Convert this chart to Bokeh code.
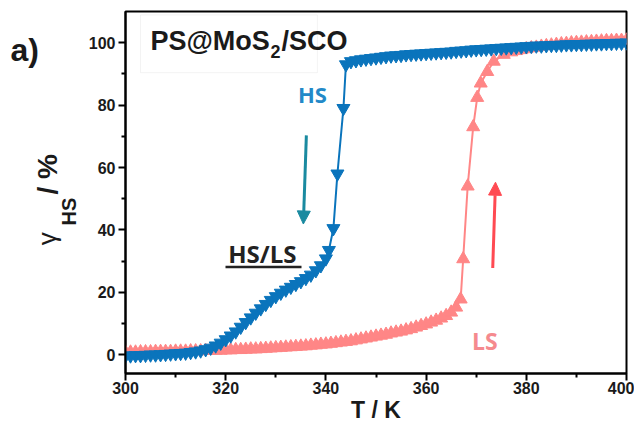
import math
from bokeh.plotting import figure
from bokeh.layouts import row
from bokeh.models import Label, BoxAnnotation, Arrow, NormalHead, Range1d, FixedTicker
from bokeh.embed import file_html
from bokeh.resources import INLINE

# ---- data ----
temp_cool = [300, 301, 302, 303, 304, 305, 306, 307, 308, 309, 310, 311, 312, 313, 314,
             315, 316, 317, 318, 319, 320, 321, 322, 323, 324, 325, 326, 327, 328, 329,
             330, 331, 332, 333, 334, 335, 336, 337, 338, 339, 340,
             340.6, 341.5, 342.3, 343.5, 344.0,
             345, 346, 347, 348, 349, 350, 351, 352, 353, 354, 355, 356, 357, 358, 359,
             360, 361, 362, 363, 364, 365, 366, 367, 368, 369, 370, 371, 372, 373, 374,
             375, 376, 377, 378, 379, 380, 381, 382, 383, 384, 385, 386, 387, 388, 389,
             390, 391, 392, 393, 394, 395, 396, 397, 398, 399, 400]
gamma_cool = [-0.3, -0.3, -0.2, -0.2, -0.1, 0.0, 0.0, 0.1, 0.2, 0.3, 0.4, 0.5, 0.6, 0.8, 1.0,
              1.3, 1.7, 2.2, 2.9, 3.8, 4.9, 6.1, 7.4, 8.9, 10.4, 11.9, 13.4, 14.8, 16.2, 17.5,
              18.7, 19.8, 20.8, 21.7, 22.6, 23.5, 24.5, 25.6, 27.0, 28.6, 30.8,
              33.5, 40.5, 58.0, 79.0, 93.0,
              94.0, 94.3, 94.6, 94.8, 95.0, 95.2, 95.4, 95.6, 95.8, 95.9, 96.0, 96.2, 96.3, 96.4, 96.5,
              96.6, 96.7, 96.8, 96.9, 97.0, 97.1, 97.3, 97.4, 97.5, 97.7, 97.8, 97.9, 98.0, 98.1, 98.2,
              98.3, 98.4, 98.5, 98.6, 98.7, 98.8, 98.9, 99.0, 99.0, 99.1, 99.2, 99.2, 99.3, 99.4, 99.4,
              99.5, 99.5, 99.6, 99.6, 99.7, 99.7, 99.8, 99.8, 99.9, 99.9, 100.0]

temp_heat = [300, 301, 302, 303, 304, 305, 306, 307, 308, 309, 310, 311, 312, 313, 314,
             315, 316, 317, 318, 319, 320, 321, 322, 323, 324, 325, 326, 327, 328, 329,
             330, 331, 332, 333, 334, 335, 336, 337, 338, 339, 340, 341, 342, 343, 344,
             345, 346, 347, 348, 349, 350, 351, 352, 353, 354, 355, 356, 357, 358, 359,
             360, 361, 362, 363, 364, 365, 366,
             366.9, 367.4, 368.3, 369.4, 370.2, 370.9, 372.2, 373.5, 375.5,
             377, 378, 379, 380, 381, 382, 383, 384, 385, 386, 387, 388, 389,
             390, 391, 392, 393, 394, 395, 396, 397, 398, 399, 400]
gamma_heat = [0.8, 0.8, 0.8, 0.9, 0.9, 0.9, 1.0, 1.0, 1.0, 1.0, 1.1, 1.1, 1.1, 1.2, 1.2,
              1.2, 1.3, 1.3, 1.4, 1.4, 1.5, 1.5, 1.6, 1.6, 1.7, 1.8, 1.8, 1.9, 2.0, 2.1,
              2.2, 2.3, 2.4, 2.5, 2.6, 2.7, 2.8, 3.0, 3.1, 3.3, 3.4, 3.6, 3.8, 4.0, 4.2,
              4.4, 4.7, 5.0, 5.3, 5.6, 5.9, 6.2, 6.5, 6.9, 7.2, 7.5, 7.9, 8.3, 8.8, 9.3,
              9.8, 10.4, 11.0, 11.7, 12.5, 13.6, 15.2,
              17.8, 30.7, 54.0, 73.0, 82.4, 87.0, 90.7, 94.0, 96.2,
              97.0, 97.4, 97.7, 98.0, 98.3, 98.5, 98.8, 99.0, 99.2, 99.4, 99.6, 99.7, 99.9,
              100.0, 100.1, 100.2, 100.3, 100.4, 100.5, 100.6, 100.6, 100.7, 100.7, 100.8]

x_ticks = [300, 320, 340, 360, 380, 400]
x_minor = [310, 330, 350, 370, 390]
y_ticks = [0, 20, 40, 60, 80, 100]
y_minor = [10, 30, 50, 70, 90]

BLUE = "#0a74bc"
PINK = "#ff8686"
TEAL = "#1a8aa0"
RED = "#ff4a52"
DARK = "#1a1a1a"

H = 427
LEFT_W = 85

# ---- left strip holding the panel letter and the y-axis title ----
side = figure(width=LEFT_W, height=H, output_backend="svg", toolbar_location=None,
              x_range=Range1d(0, LEFT_W), y_range=Range1d(H, 0),
              min_border=0, outline_line_color=None)
side.axis.visible = False
side.grid.visible = False

def lab(fig, x, y, text, size, color=DARK, font="Liberation Sans", style="bold",
        align="left", baseline="alphabetic", angle=0.0):
    l = Label(x=x, y=y, text=text, text_font_size=size, text_color=color,
              text_font=font, text_font_style=style, text_align=align,
              text_baseline=baseline, angle=angle)
    fig.add_layout(l)
    return l

lab(side, 10, 46, "a)", "32px", baseline="middle")
lab(side, 46.5, 268, "γ", "26px", style="normal", align="center", baseline="middle", angle=math.pi / 2)
lab(side, 68.5, 236, "HS", "20px", align="center", baseline="middle", angle=math.pi / 2)
lab(side, 46.5, 192, "/ %", "28px", align="center", baseline="middle", angle=math.pi / 2)

# ---- main plot ----
p = figure(width=634 - LEFT_W, height=H, output_backend="svg", toolbar_location=None,
           x_range=Range1d(300, 400), y_range=Range1d(-6, 110),
           min_border_left=125 - LEFT_W, min_border_right=8, min_border_top=11, min_border_bottom=54)

p.xgrid.grid_line_color = None
p.ygrid.grid_line_color = None
p.outline_line_color = "black"
p.outline_line_width = 2
p.background_fill_color = "white"

for ax in (p.xaxis[0], p.yaxis[0]):
    ax.axis_line_width = 2
    ax.major_tick_line_width = 2
    ax.minor_tick_line_width = 2
    ax.major_tick_in = 0
    ax.minor_tick_in = 0
    ax.major_tick_out = 7
    ax.minor_tick_out = 4
    ax.major_label_text_font = "Liberation Sans"
    ax.major_label_text_font_style = "bold"
    ax.major_label_text_font_size = "16px"
    ax.major_label_text_color = DARK

p.xaxis[0].ticker = FixedTicker(ticks=x_ticks, minor_ticks=x_minor)
p.yaxis[0].ticker = FixedTicker(ticks=y_ticks, minor_ticks=y_minor)
p.xaxis[0].major_label_standoff = 1
p.yaxis[0].major_label_standoff = 3
p.xaxis[0].axis_label = "T / K"
p.xaxis[0].axis_label_text_font = "Liberation Sans"
p.xaxis[0].axis_label_text_font_style = "bold"
p.xaxis[0].axis_label_text_font_size = "23px"
p.xaxis[0].axis_label_text_color = DARK
p.xaxis[0].axis_label_standoff = 0

# title box
box = BoxAnnotation(left=303.0, right=338.3, bottom=90.4, top=108.9,
                    fill_color="white", fill_alpha=1.0, line_color="#d6d6d6", line_width=1,
                    level="underlay")
p.add_layout(box)

# curves
p.line(temp_heat, gamma_heat, color=PINK, line_width=2)
p.scatter(temp_heat, gamma_heat, marker="triangle", size=13, color=PINK)
p.line(temp_cool, gamma_cool, color=BLUE, line_width=2)
p.scatter(temp_cool, gamma_cool, marker="inverted_triangle", size=13, color=BLUE)

# title text with subscript
lab(p, 304.99, 100.6, "PS@MoS", "27px")
lab(p, 328.94, 97.2, "2", "18px")
lab(p, 331.14, 100.6, "/SCO", "27px")

# annotations in plot
lab(p, 337.3, 83.7, "HS", "22px", color="#2389c8", font="Open Sans", align="center", baseline="middle")
lab(p, 327.3, 32.6, "HS/LS", "24px", color="#222222", font="Open Sans", align="center", baseline="middle")
lab(p, 371.7, 4.5, "LS", "23px", color="#f58a8e", font="Open Sans", align="center", baseline="middle")

# underline of HS/LS
p.add_layout(Arrow(end=None, x_start=319.96, y_start=28.1, x_end=335.13, y_end=28.1,
                   line_color="#222222", line_width=2.5))

# arrows
p.add_layout(Arrow(end=NormalHead(size=13, fill_color=TEAL, line_color=TEAL),
                   x_start=336.1, y_start=70.3, x_end=335.5, y_end=41.9,
                   line_color=TEAL, line_width=3))
p.add_layout(Arrow(end=NormalHead(size=13, fill_color=RED, line_color=RED),
                   x_start=373.3, y_start=27.8, x_end=373.85, y_end=55.3,
                   line_color=RED, line_width=3))

layout = row(side, p)
open("out.html", "w").write(file_html(layout, INLINE))
